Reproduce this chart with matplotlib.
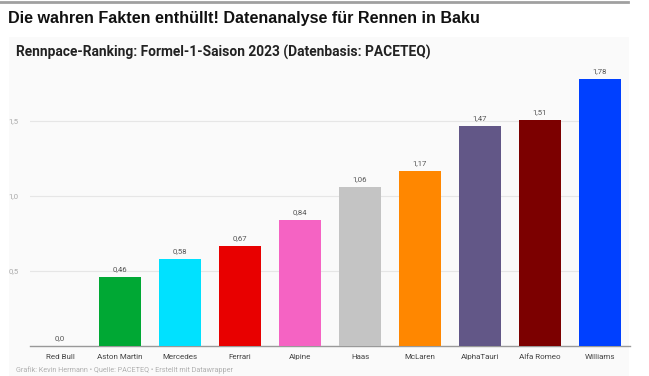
import matplotlib.pyplot as plt
from matplotlib.patches import Rectangle
from matplotlib.lines import Line2D

teams = ['Red Bull', 'Aston Martin', 'Mercedes', 'Ferrari', 'Alpine', 'Haas',
         'McLaren', 'AlphaTauri', 'Alfa Romeo', 'Williams']
pace = [0.0, 0.46, 0.58, 0.67, 0.84, 1.06, 1.17, 1.47, 1.51, 1.78]
colors = ['#1e41ff', '#00a834', '#00e1ff', '#e80000', '#f563c3', '#c4c4c4',
          '#ff8700', '#625787', '#7c0000', '#0040ff']
yticks = [0.5, 1.0, 1.5]

W, H = 649, 376
fig = plt.figure(figsize=(W / 100, H / 100), dpi=100)
fig.patch.set_facecolor('white')

# light panel behind the chart
fig.patches.append(Rectangle((9 / W, 0), 620 / W, 1 - 37 / H, transform=fig.transFigure,
                             facecolor='#fafafa', edgecolor='none', zorder=-5))
fig.lines.append(Line2D([0, 628 / W], [1 - 2 / H, 1 - 2 / H], transform=fig.transFigure,
                        color='#a0a0a0', lw=2))

fig.text(8 / W, 1 - 19 / H, 'Die wahren Fakten enthüllt! Datenanalyse für Rennen in Baku',
         family='Liberation Sans', weight='bold', fontsize=11.6, va='center', color='#111111')
fig.text(16 / W, 1 - 52 / H, 'Rennpace-Ranking: Formel-1-Saison 2023 (Datenbasis: PACETEQ)',
         family='Roboto', weight='bold', fontsize=9.95, va='center', color='#222222')
fig.text(16 / W, 1 - 370 / H, 'Grafik: Kevin Hermann • Quelle: PACETEQ • Erstellt mit Datawrapper',
         family='Roboto', fontsize=5.2, va='center', color='#b0b0b0')

ymax = 1.9
bottom_px = 346
top_px = bottom_px - ymax * 150
ax = fig.add_axes([30 / W, 1 - bottom_px / H, 600 / W, (bottom_px - top_px) / H])
ax.set_facecolor('none')
ax.set_zorder(2)

x = range(len(teams))
ax.bar(x, pace, width=0.7, color=colors, edgecolor='none', zorder=3)
for i, v in enumerate(pace):
    lbl = f'{v:.2f}'.replace('.', ',') if v != 0 else '0,0'
    ax.text(i, v + 0.03, lbl, ha='center', va='bottom', fontsize=5.6,
            family='Roboto', color='#555555', zorder=4)

ax.set_xlim(-0.5, len(teams) - 0.5)
ax.set_ylim(0, ymax)
ax.set_yticks(yticks)
ax.set_yticklabels([f'{t:.1f}'.replace('.', ',') for t in yticks], family='Roboto',
                   fontsize=5.6, color='#aaaaaa')
ax.set_xticks(list(x))
ax.set_xticklabels(teams, family='Roboto', fontsize=5.8, color='#444444')
ax.tick_params(axis='both', length=0)
ax.tick_params(axis='x', pad=6)
ax.tick_params(axis='y', pad=8)
for t in yticks:
    ax.axhline(t, xmin=0, xmax=582 / 600, color='#e6e6e6', lw=0.8, zorder=0)
for s in ['top', 'right', 'left']:
    ax.spines[s].set_visible(False)
ax.spines['bottom'].set_color('#999999')
ax.spines['bottom'].set_linewidth(1)

fig.savefig('out.png', dpi=100)
